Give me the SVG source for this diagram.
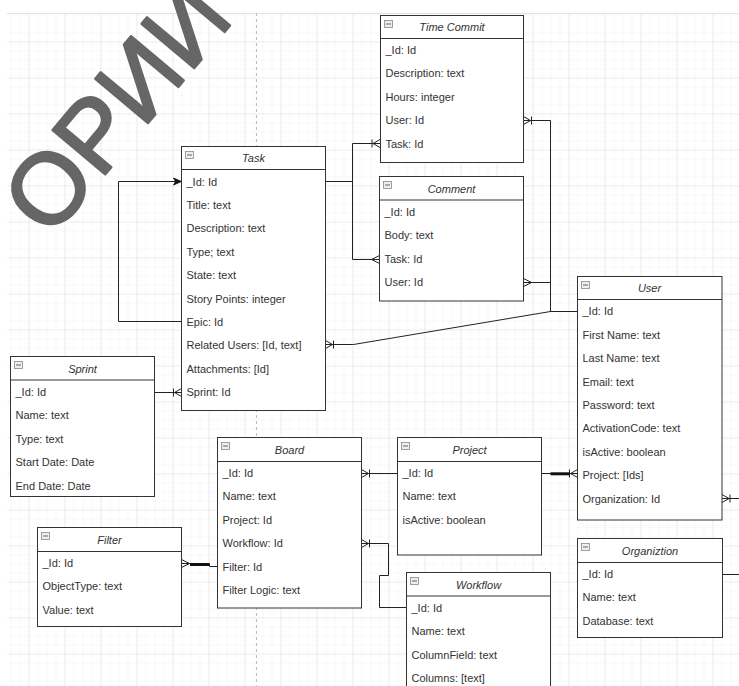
<svg xmlns="http://www.w3.org/2000/svg" width="739" height="686" viewBox="0 0 739 686">
<style>
  .box{fill:#fff;stroke:#333;stroke-width:1}
  .hdr{stroke:#333;stroke-width:1}
  .ttl{font-family:"Liberation Sans",Arial,sans-serif;font-size:11px;font-style:italic;fill:#333;text-anchor:middle}
  .row{font-family:"Liberation Sans",Arial,sans-serif;font-size:11px;fill:#333}
  .ico{fill:#eee;stroke:#888;stroke-width:0.8}
  .icl{stroke:#666;stroke-width:1}
  .con{fill:none;stroke:#222;stroke-width:1}
  .thick{fill:none;stroke:#111;stroke-width:3}
  .mk{fill:none;stroke:#222;stroke-width:1}
  .wm{font-family:"Liberation Sans",Arial,sans-serif;font-size:100px;fill:#666;stroke:#666;stroke-width:2.5;stroke-linejoin:round}
</style>
<defs>
  <pattern id="minor" patternUnits="userSpaceOnUse" x="28.5" y="41.5" width="9" height="9">
    <path d="M0,0 V9 M0,0 H9" fill="none" stroke="#f2f2f2" stroke-width="1"/>
  </pattern>
  <pattern id="major" patternUnits="userSpaceOnUse" x="28.5" y="41.5" width="36" height="36">
    <path d="M0,0 V36 M0,0 H36" fill="none" stroke="#e2e2e2" stroke-width="1"/>
  </pattern>
  <marker id="oneMany" markerUnits="userSpaceOnUse" viewBox="-12 -7 14 14" refX="0" refY="0" markerWidth="14" markerHeight="14" orient="auto" overflow="visible">
    <path class="mk" d="M0,-4 L-7,0 L0,4 M-8,0 L0,0 M-8,-4 L-8,4"/>
  </marker>
  <marker id="many" markerUnits="userSpaceOnUse" viewBox="-12 -7 14 14" refX="0" refY="0" markerWidth="14" markerHeight="14" orient="auto" overflow="visible">
    <path class="mk" d="M0,-4 L-8,0 L0,4"/>
  </marker>
  <marker id="arrow" markerUnits="userSpaceOnUse" viewBox="-10 -5 11 10" refX="0" refY="0" markerWidth="11" markerHeight="10" orient="auto" overflow="visible">
    <path d="M0,0 L-8,-3.5 L-6,0 L-8,3.5 Z" fill="#111" stroke="#111" stroke-width="0.8"/>
  </marker>
</defs>

<rect x="0" y="0" width="739" height="686" fill="#fff"/>
<g id="grid">
  <rect x="7" y="13" width="732" height="673" fill="url(#minor)"/>
  <rect x="7" y="13" width="732" height="673" fill="url(#major)"/>
  <line x1="7" y1="13.5" x2="739" y2="13.5" stroke="#e2e2e2"/>
  <line x1="256.5" y1="13" x2="256.5" y2="686" stroke="#bdbdbd" stroke-dasharray="3 3"/>
</g>

<text class="wm" transform="translate(50,240) rotate(-50)">ОРИИ</text>

<g id="connectors">
  <path class="con" d="M325.5,181.5 H352.5 V143.5 H380" marker-end="url(#oneMany)"/>
  <path class="con" d="M325.5,181.5 H352.5 V259.5 H379.5" marker-end="url(#many)"/>
  <path class="con" d="M577.5,311.5 H550.5 V120.5 H523.5" marker-end="url(#oneMany)"/>
  <path class="con" d="M577.5,311.5 H550.5 V282.5 H523.5" marker-end="url(#many)"/>
  <path class="con" d="M577.5,311.5 H550.5 L353.5,344.5 H325.5" marker-end="url(#oneMany)"/>
  <path class="con" d="M181.5,321.5 H118.5 V181.5 H181.5" marker-end="url(#arrow)"/>
  <path class="con" d="M154.5,392.5 H181.5" marker-end="url(#oneMany)"/>
  <path class="con" d="M397.5,473.5 H361.5" marker-end="url(#oneMany)"/>
  <path class="con" d="M406.5,607.5 H379.5 V575.5 H388.5 V543.5 H361.5" marker-end="url(#oneMany)"/>
  <path class="con" d="M217.5,566.5 H209.5 V563.5 H181.5" marker-end="url(#many)"/>
  <line class="thick" x1="190" y1="564.5" x2="209" y2="564.5" stroke-width="2.5"/>
  <path class="con" d="M541.5,473.5 H577.5" marker-end="url(#oneMany)"/>
  <line class="thick" x1="550.5" y1="473.8" x2="570" y2="473.8"/>
  <path class="con" d="M745,498.5 H722" marker-end="url(#oneMany)"/>
  <path class="con" d="M722.5,574.5 H745 V498.5"/>
</g>

<g id="time-commit" transform="translate(380.5,15.5)">
  <rect class="box" width="143" height="147"/>
  <line class="hdr" x1="0" y1="23" x2="143" y2="23"/>
  <rect class="ico" x="4" y="5" width="8" height="7"/><line class="icl" x1="5.5" y1="8.5" x2="10.5" y2="8.5"/>
  <text class="ttl" x="71.5" y="15.5">Time Commit</text>
  <text class="row" x="5" y="38.5">_Id: Id</text>
  <text class="row" x="5" y="61.9">Description: text</text>
  <text class="row" x="5" y="85.3">Hours: integer</text>
  <text class="row" x="5" y="108.7">User: Id</text>
  <text class="row" x="5" y="132.1">Task: Id</text>
</g>

<g id="task" transform="translate(181.5,146.5)">
  <rect class="box" width="144" height="264"/>
  <line class="hdr" x1="0" y1="23" x2="144" y2="23"/>
  <rect class="ico" x="4" y="5" width="8" height="7"/><line class="icl" x1="5.5" y1="8.5" x2="10.5" y2="8.5"/>
  <text class="ttl" x="72" y="15.5">Task</text>
  <text class="row" x="5" y="39">_Id: Id</text>
  <text class="row" x="5" y="62.4">Title: text</text>
  <text class="row" x="5" y="85.8">Description: text</text>
  <text class="row" x="5" y="109.2">Type; text</text>
  <text class="row" x="5" y="132.6">State: text</text>
  <text class="row" x="5" y="156">Story Points: integer</text>
  <text class="row" x="5" y="179.4">Epic: Id</text>
  <text class="row" x="5" y="202.8">Related Users: [Id, text]</text>
  <text class="row" x="5" y="226.2">Attachments: [Id]</text>
  <text class="row" x="5" y="249.6">Sprint: Id</text>
</g>

<g id="comment" transform="translate(379.5,176.5)">
  <rect class="box" width="144" height="124.5"/>
  <line class="hdr" x1="0" y1="23.5" x2="144" y2="23.5"/>
  <rect class="ico" x="4" y="5" width="8" height="7"/><line class="icl" x1="5.5" y1="8.5" x2="10.5" y2="8.5"/>
  <text class="ttl" x="72" y="16">Comment</text>
  <text class="row" x="5" y="39.5">_Id: Id</text>
  <text class="row" x="5" y="62.9">Body: text</text>
  <text class="row" x="5" y="86.3">Task: Id</text>
  <text class="row" x="5" y="109.7">User: Id</text>
</g>

<g id="user" transform="translate(577.5,276.5)">
  <rect class="box" width="144.5" height="243.5"/>
  <line class="hdr" x1="0" y1="23" x2="144.5" y2="23"/>
  <rect class="ico" x="4" y="5" width="8" height="7"/><line class="icl" x1="5.5" y1="8.5" x2="10.5" y2="8.5"/>
  <text class="ttl" x="72" y="15.5">User</text>
  <text class="row" x="5" y="38.8">_Id: Id</text>
  <text class="row" x="5" y="62.2">First Name: text</text>
  <text class="row" x="5" y="85.6">Last Name: text</text>
  <text class="row" x="5" y="109">Email: text</text>
  <text class="row" x="5" y="132.4">Password: text</text>
  <text class="row" x="5" y="155.8">ActivationCode: text</text>
  <text class="row" x="5" y="179.2">isActive: boolean</text>
  <text class="row" x="5" y="202.6">Project: [Ids]</text>
  <text class="row" x="5" y="226">Organization: Id</text>
</g>

<g id="sprint" transform="translate(10.5,356.5)">
  <rect class="box" width="144" height="140"/>
  <line class="hdr" x1="0" y1="23.5" x2="144" y2="23.5"/>
  <rect class="ico" x="4" y="5" width="8" height="7"/><line class="icl" x1="5.5" y1="8.5" x2="10.5" y2="8.5"/>
  <text class="ttl" x="72" y="16">Sprint</text>
  <text class="row" x="5" y="39.5">_Id: Id</text>
  <text class="row" x="5" y="62.9">Name: text</text>
  <text class="row" x="5" y="86.3">Type: text</text>
  <text class="row" x="5" y="109.7">Start Date: Date</text>
  <text class="row" x="5" y="133.1">End Date: Date</text>
</g>

<g id="board" transform="translate(217.5,437.5)">
  <rect class="box" width="144" height="170.5"/>
  <line class="hdr" x1="0" y1="24" x2="144" y2="24"/>
  <rect class="ico" x="4" y="5" width="8" height="7"/><line class="icl" x1="5.5" y1="8.5" x2="10.5" y2="8.5"/>
  <text class="ttl" x="72" y="16">Board</text>
  <text class="row" x="5" y="39.5">_Id: Id</text>
  <text class="row" x="5" y="62.9">Name: text</text>
  <text class="row" x="5" y="86.3">Project: Id</text>
  <text class="row" x="5" y="109.7">Workflow: Id</text>
  <text class="row" x="5" y="133.1">Filter: Id</text>
  <text class="row" x="5" y="156.5">Filter Logic: text</text>
</g>

<g id="project" transform="translate(397.5,437.5)">
  <rect class="box" width="144" height="117.5"/>
  <line class="hdr" x1="0" y1="24" x2="144" y2="24"/>
  <rect class="ico" x="4" y="5" width="8" height="7"/><line class="icl" x1="5.5" y1="8.5" x2="10.5" y2="8.5"/>
  <text class="ttl" x="72" y="16">Project</text>
  <text class="row" x="5" y="39.5">_Id: Id</text>
  <text class="row" x="5" y="62.9">Name: text</text>
  <text class="row" x="5" y="86.3">isActive: boolean</text>
</g>

<g id="workflow" transform="translate(406.5,572.5)">
  <rect class="box" width="144" height="130"/>
  <line class="hdr" x1="0" y1="23.5" x2="144" y2="23.5"/>
  <rect class="ico" x="4" y="5" width="8" height="7"/><line class="icl" x1="5.5" y1="8.5" x2="10.5" y2="8.5"/>
  <text class="ttl" x="72" y="16">Workflow</text>
  <text class="row" x="5" y="39.5">_Id: Id</text>
  <text class="row" x="5" y="62.9">Name: text</text>
  <text class="row" x="5" y="86.3">ColumnField: text</text>
  <text class="row" x="5" y="109.7">Columns: [text]</text>
</g>

<g id="filter" transform="translate(37.5,527.5)">
  <rect class="box" width="144" height="99"/>
  <line class="hdr" x1="0" y1="24" x2="144" y2="24"/>
  <rect class="ico" x="4" y="5" width="8" height="7"/><line class="icl" x1="5.5" y1="8.5" x2="10.5" y2="8.5"/>
  <text class="ttl" x="72" y="16">Filter</text>
  <text class="row" x="5" y="39.5">_Id: Id</text>
  <text class="row" x="5" y="62.9">ObjectType: text</text>
  <text class="row" x="5" y="86.3">Value: text</text>
</g>

<g id="organiztion" transform="translate(577.5,538.5)">
  <rect class="box" width="145" height="99"/>
  <line class="hdr" x1="0" y1="24" x2="145" y2="24"/>
  <rect class="ico" x="4" y="5" width="8" height="7"/><line class="icl" x1="5.5" y1="8.5" x2="10.5" y2="8.5"/>
  <text class="ttl" x="72.5" y="16">Organiztion</text>
  <text class="row" x="5" y="39.5">_Id: Id</text>
  <text class="row" x="5" y="62.9">Name: text</text>
  <text class="row" x="5" y="86.3">Database: text</text>
</g>
</svg>
